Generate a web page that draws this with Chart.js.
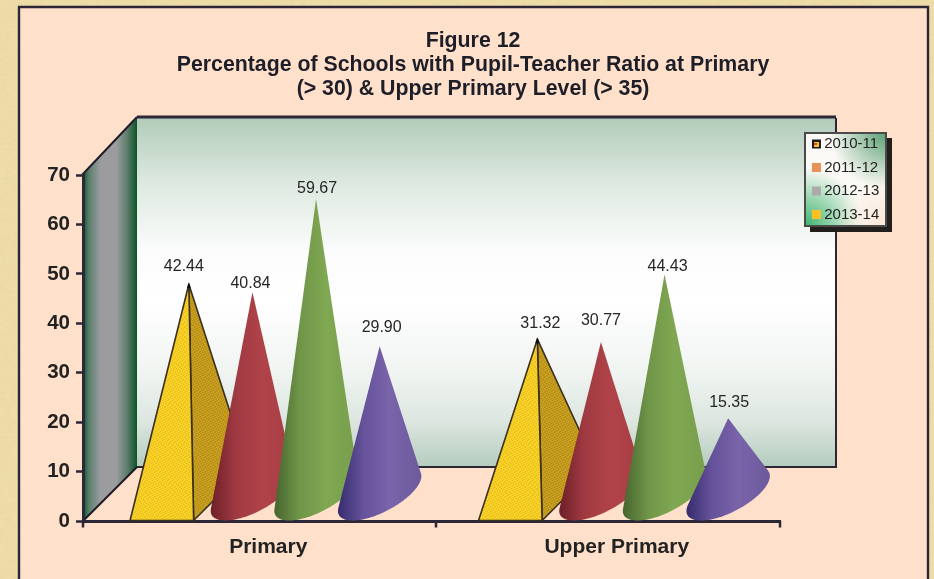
<!DOCTYPE html>
<html>
<head>
<meta charset="utf-8">
<style>
html,body{margin:0;padding:0;width:934px;height:579px;overflow:hidden;background-color:#EFDDA9;
background-image:url("data:image/svg+xml;utf8,<svg xmlns='http://www.w3.org/2000/svg' width='934' height='579'><filter id='n'><feTurbulence type='fractalNoise' baseFrequency='0.18 0.35' numOctaves='3' seed='4'/><feColorMatrix values='0 0 0 0 0.80 0 0 0 0 0.66 0 0 0 0 0.36 0 0 0 1.1 -0.35'/></filter><rect width='934' height='579' filter='url(%23n)'/></svg>");}
canvas{display:block}
</style>
<script src="https://cdn.jsdelivr.net/npm/chart.js@4"></script>
</head>
<body>
<canvas id="c" width="934" height="579"></canvas>
<script>
const titleLines = ["Figure 12","Percentage of Schools with Pupil-Teacher Ratio at Primary","(> 30) & Upper Primary Level (> 35)"];
const categories = ["Primary","Upper Primary"];
const seriesNames = ["2010-11","2011-12","2012-13","2013-14"];
const values2010 = [42.44,31.32];
const values2011 = [40.84,30.77];
const values2012 = [59.67,44.43];
const values2013 = [29.90,15.35];
const markColors = ["#F2C81C","#AA3F45","#7BA24E","#7460A4"];
const legendColors = [null,"#E8925A","#ABABAB","#FDC022"];
const labelNudge = [[[-5,-17.5],[3,-16]],[[-2,-9],[0,-21]],[[1,-10],[3,-8]],[[2,-19],[1,-16]]];

const DEPTH = 27;
const INK = "#2B2736";
const coneShades = [null,
  ["#6E1F28","#A03A42","#B04349","#A63E44"],
  ["#47652F","#6F9548","#80A852","#779E4C"],
  ["#372C6E","#65529A","#7A64AA","#6C5A9C"]];

Chart.BarController.prototype.draw = function(){};

function noisePattern(ctx, base, light, dark){
  const p = document.createElement("canvas"); p.width = p.height = 5;
  const g = p.getContext("2d");
  g.fillStyle = base; g.fillRect(0,0,5,5);
  g.fillStyle = light; [[0,0],[3,1],[1,2],[4,3],[2,4]].forEach(a=>g.fillRect(a[0],a[1],1,1));
  g.fillStyle = dark; [[2,0],[0,1],[4,2],[1,3],[3,4]].forEach(a=>g.fillRect(a[0],a[1],1,1));
  return ctx.createPattern(p,"repeat");
}
function firstSwatch(ctx){
  const p = document.createElement("canvas"); p.width = p.height = 9;
  const g = p.getContext("2d");
  g.fillStyle="#1E1A1A"; g.fillRect(0,0,9,9);
  g.fillStyle="#F6C21E"; g.fillRect(2,2,5,5);
  g.fillStyle="#D8452A"; g.fillRect(2,3,3,2);
  const pat=ctx.createPattern(p,"repeat");
  pat.setTransform(new DOMMatrix().translate(812,140));
  return pat;
}

function drawPyramid(ctx, el){
  const x=el.x, w=el.width/2, b=el.base, ax=x+DEPTH, ay=el.y-DEPTH;
  ctx.save();
  ctx.lineJoin="round";
  ctx.strokeStyle="#3A3020"; ctx.lineWidth=1.6;
  ctx.fillStyle=noisePattern(ctx,"#C2991C","#CFA828","#B08A14");
  ctx.beginPath(); ctx.moveTo(ax,ay); ctx.lineTo(x+w,b); ctx.lineTo(x+w+2*DEPTH,b-2*DEPTH); ctx.closePath(); ctx.fill(); ctx.stroke();
  ctx.fillStyle=noisePattern(ctx,"#F5CC20","#FBDB3E","#E8B814");
  ctx.beginPath(); ctx.moveTo(ax,ay); ctx.lineTo(x-w,b); ctx.lineTo(x+w,b); ctx.closePath(); ctx.fill(); ctx.stroke();
  ctx.fillStyle="#111"; ctx.beginPath(); ctx.moveTo(ax,ay-2); ctx.lineTo(ax-2,ay+4); ctx.lineTo(ax+2,ay+4); ctx.closePath(); ctx.fill();
  ctx.restore();
}
function drawCone(ctx, el, shades){
  const x=el.x, w=el.width/2, b=el.base, cx=x+DEPTH, cy=b-DEPTH, ax=cx, ay=el.y-DEPTH;
  const pts=[], N=180;
  for(let i=0;i<=N;i++){
    const t=-Math.PI/2-Math.PI+2*Math.PI*i/N;
    pts.push([cx+w*Math.cos(t)+DEPTH*Math.sin(t), cy-DEPTH*Math.sin(t)]);
  }
  const ang=p=>Math.atan2(p[0]-ax,p[1]-ay);
  let i1=0,i2=N;
  for(let i=0;i<=N/2;i++) if(ang(pts[i])<ang(pts[i1])) i1=i;
  for(let i=N/2;i<=N;i++) if(ang(pts[i])>ang(pts[i2])) i2=i;
  const left=cx-Math.hypot(w,DEPTH), right=cx+Math.hypot(w,DEPTH);
  const g=ctx.createLinearGradient(left,0,right,0);
  g.addColorStop(0,shades[0]); g.addColorStop(.3,shades[1]); g.addColorStop(.62,shades[2]); g.addColorStop(1,shades[3]);
  ctx.save();
  ctx.filter="blur(0.4px)";
  ctx.fillStyle=g;
  ctx.beginPath(); ctx.moveTo(ax,ay);
  for(let i=i1;i<=i2;i++) ctx.lineTo(pts[i][0],pts[i][1]);
  ctx.closePath(); ctx.fill();
  ctx.restore();
}

const backdrop = {
  id:"backdrop",
  afterLayout(chart){
    const t=chart.titleBlock; t.left=12; t.right=934;
    const l=chart.legend, dx=807.7-l.left, dy=128-l.top;
    l.left+=dx; l.right+=dx; l.top+=dy; l.bottom+=dy;
  },
  beforeDraw(chart){
    const ctx=chart.ctx, a=chart.chartArea, W=chart.width, H=chart.height;
    const wl=a.left+54, wb=a.bottom-54, wt=118, wr=836;
    ctx.save();
    ctx.fillStyle="#FEE0CB"; ctx.fillRect(19,7,909,H);
    ctx.strokeStyle=INK; ctx.lineWidth=2.4;
    ctx.beginPath(); ctx.moveTo(19,H); ctx.lineTo(19,7); ctx.lineTo(928,7); ctx.lineTo(928,H); ctx.stroke();
    // back wall
    const g=ctx.createLinearGradient(0,wt,0,wb);
    [[0,"#B2CBB9"],[.18,"#DCE8DF"],[.38,"#FBFCFB"],[.52,"#FFFFFF"],[.72,"#F1F5F2"],[.87,"#DCE6DF"],[1,"#B4CCBD"]].forEach(s=>g.addColorStop(s[0],s[1]));
    ctx.fillStyle=g; ctx.fillRect(wl,wt,wr-wl,wb-wt);
    ctx.strokeStyle=INK; ctx.lineWidth=2;
    ctx.beginPath(); ctx.moveTo(wl,wb); ctx.lineTo(wr,wb); ctx.lineTo(wr,wt); ctx.stroke();
    ctx.lineWidth=3;
    ctx.beginPath(); ctx.moveTo(wl,wt-1); ctx.lineTo(wr,wt-1); ctx.stroke();
    // side wall
    const s=ctx.createLinearGradient(a.left,0,wl,0);
    [[0,"#0A5A2C"],[.12,"#5F8070"],[.32,"#9A9C9E"],[.62,"#9A9C9E"],[.82,"#5C7C6A"],[1,"#0A5428"]].forEach(c=>s.addColorStop(c[0],c[1]));
    ctx.fillStyle=s;
    ctx.beginPath(); ctx.moveTo(a.left,a.top); ctx.lineTo(wl,wt); ctx.lineTo(wl,wb); ctx.lineTo(a.left,a.bottom); ctx.closePath(); ctx.fill();
    ctx.strokeStyle="#1E1A28"; ctx.lineWidth=2;
    ctx.beginPath(); ctx.moveTo(a.left-1,a.top); ctx.lineTo(wl,wt-1); ctx.stroke();
    ctx.beginPath(); ctx.moveTo(wl,wb); ctx.lineTo(a.left,a.bottom); ctx.stroke();
    // legend panel
    const lx=805, ly=133, lw=81, lh=93;
    ctx.fillStyle="#221E1C"; ctx.fillRect(lx+5,ly+5,lw+1,lh+1);
    ctx.fillStyle="#FBF9F5"; ctx.fillRect(lx,ly,lw,lh);
    const c1=ctx.createRadialGradient(lx,ly+lh,0,lx,ly+lh,58);
    c1.addColorStop(0,"rgba(60,178,110,1)"); c1.addColorStop(1,"rgba(60,178,110,0)");
    ctx.fillStyle=c1; ctx.fillRect(lx,ly,lw,lh);
    const c2=ctx.createRadialGradient(lx+lw,ly,0,lx+lw,ly,56);
    c2.addColorStop(0,"rgba(90,160,115,1)"); c2.addColorStop(1,"rgba(90,160,115,0)");
    ctx.fillStyle=c2; ctx.fillRect(lx,ly,lw,lh);
    const c3=ctx.createRadialGradient(lx+lw,ly+lh,0,lx+lw,ly+lh,50);
    c3.addColorStop(0,"rgba(252,230,214,1)"); c3.addColorStop(1,"rgba(252,230,214,0)");
    ctx.fillStyle=c3; ctx.fillRect(lx,ly,lw,lh);
    ctx.strokeStyle="#4A4A4A"; ctx.lineWidth=2; ctx.strokeRect(lx,ly,lw,lh);
    ctx.restore();
  },
  afterDatasetsDraw(chart){
    const ctx=chart.ctx;
    chart.data.datasets.forEach((ds,i)=>{
      chart.getDatasetMeta(i).data.forEach(el=>{
        if(i===0) drawPyramid(ctx,el); else drawCone(ctx,el,coneShades[i]);
      });
    });
    ctx.save();
    ctx.font='16px "Liberation Sans"'; ctx.fillStyle="#262626";
    ctx.textAlign="center"; ctx.textBaseline="middle";
    chart.data.datasets.forEach((ds,i)=>{
      chart.getDatasetMeta(i).data.forEach((el,j)=>{
        const n=labelNudge[i][j];
        ctx.fillText(ds.data[j].toFixed(2), el.x+DEPTH+n[0], el.y-DEPTH+n[1]);
      });
    });
    // category boundary ticks on the x axis
    const xs=chart.scales.x;
    ctx.strokeStyle=INK; ctx.lineWidth=2.5;
    [xs.left, xs.left+353, xs.right].forEach(px=>{
      ctx.beginPath(); ctx.moveTo(px,xs.top); ctx.lineTo(px,xs.top+6.5); ctx.stroke();
    });
    ctx.restore();
  }
};

const seriesValues=[values2010,values2011,values2012,values2013];
new Chart(document.getElementById("c"),{
  type:"bar",
  plugins:[backdrop],
  data:{
    labels:categories,
    datasets:seriesNames.map((n,i)=>({label:n,data:seriesValues[i],backgroundColor:markColors[i],categoryPercentage:.73,barPercentage:1}))
  },
  options:{
    responsive:false,
    animation:false,
    layout:{padding:{left:0,right:74,top:0,bottom:0}},
    plugins:{
      tooltip:{enabled:false},
      title:{display:true,text:titleLines,color:"#1E1E28",
        font:{family:'"Liberation Sans"',size:21.3,weight:"bold",lineHeight:1.127},
        padding:{top:29,bottom:74}},
      legend:{position:"right",align:"start",maxWidth:80,
        labels:{boxWidth:0.5,boxHeight:0.5,padding:8.5,color:"#222",
          font:{family:'"Liberation Sans"',size:15},
          generateLabels(chart){
            return seriesNames.map((n,i)=>({text:n,datasetIndex:i,hidden:false,lineWidth:8.5,
              fillStyle:"rgba(0,0,0,0)",fontColor:"#222",
              strokeStyle:legendColors[i]||firstSwatch(chart.ctx)}));
          }}}
    },
    scales:{
      x:{
        afterFit(s){s.height=58;},
        grid:{display:false,drawTicks:false},
        border:{display:true,color:INK,width:3},
        ticks:{labelOffset:11,padding:14,color:"#222",maxRotation:0,
          font:{family:'"Liberation Sans"',size:21,weight:"bold"}}
      },
      y:{
        min:0,max:70,
        afterFit(s){s.width=83;},
        grid:{drawOnChartArea:false,drawTicks:true,tickLength:7,tickColor:INK,tickWidth:2.5},
        border:{display:true,color:INK,width:3},
        ticks:{stepSize:10,padding:6,color:"#222",
          font:{family:'"Liberation Sans"',size:20.5,weight:"bold"}}
      }
    }
  }
});
</script>
</body>
</html>
